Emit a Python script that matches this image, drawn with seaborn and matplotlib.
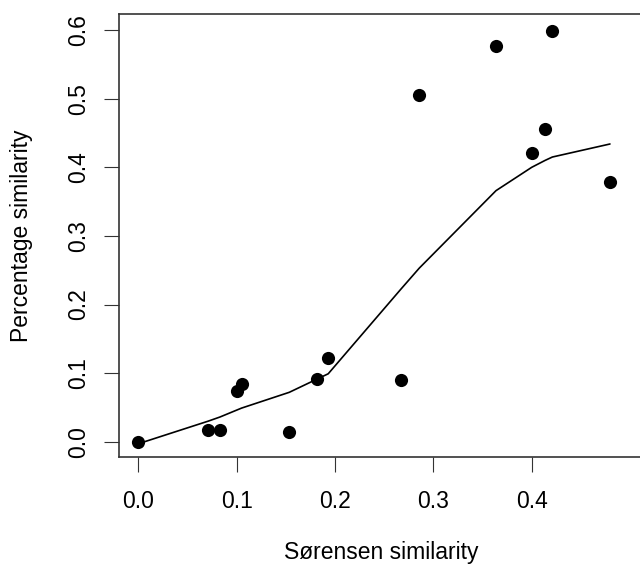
import matplotlib
matplotlib.use("Agg")
import matplotlib.pyplot as plt
import seaborn as sns
import pandas as pd

sorensen = [0.0, 0.0712, 0.0831, 0.1000, 0.1051, 0.1536, 0.1814, 0.1932,
            0.2669, 0.2858, 0.3639, 0.4002, 0.4137, 0.4212, 0.4798]
percentage = [0.0, 0.0171, 0.0171, 0.0743, 0.0840, 0.0141, 0.0918, 0.1222,
              0.0899, 0.5054, 0.5768, 0.4204, 0.4554, 0.5987, 0.3790]
smooth = [-0.003, 0.030, 0.036, 0.046, 0.049, 0.072, 0.091, 0.099,
          0.222, 0.253, 0.366, 0.400, 0.410, 0.415, 0.434]
x_ticks = [0.0, 0.1, 0.2, 0.3, 0.4]
y_ticks = [0.0, 0.1, 0.2, 0.3, 0.4, 0.5, 0.6]

df = pd.DataFrame({"x": sorensen, "y": percentage, "fit": smooth})

sns.set_style("white")
plt.rcParams["font.family"] = ["Liberation Sans", "DejaVu Sans"]

fig = plt.figure(figsize=(6.4, 5.66), dpi=100)
W, H = 640, 566
ax = fig.add_axes([119 / W, 1 - 457 / H, 524 / W, 443 / H])

sns.scatterplot(data=df, x="x", y="y", ax=ax, color="black", s=90,
                edgecolor="black", linewidth=0, zorder=3)
sns.lineplot(data=df, x="x", y="fit", ax=ax, color="black", linewidth=1.2,
             sort=True, estimator=None, zorder=2)

ax.set_xlim(-0.0196, 0.5134)
ax.set_ylim(-0.0223, 0.6235)
ax.set_xticks(x_ticks)
ax.set_xticklabels([f"{v:.1f}" for v in x_ticks])
ax.set_yticks(y_ticks)
ax.set_yticklabels([f"{v:.1f}" for v in y_ticks], rotation=90, va="center")

for s in ax.spines.values():
    s.set_visible(True)
    s.set_color("#333333")
    s.set_linewidth(1.2)

ax.tick_params(axis="both", direction="out", length=11, width=0.8,
               color="#333333", labelsize=16.5, labelcolor="black",
               bottom=True, left=True)
ax.tick_params(axis="x", pad=13)
ax.tick_params(axis="y", pad=10)

ax.set_xlabel("Sørensen similarity", fontsize=16.5, color="black")
ax.set_ylabel("Percentage similarity", fontsize=16.5, color="black")
ax.xaxis.set_label_coords((381 - 119) / 524, (457 - 553) / 443)
ax.yaxis.set_label_coords((22 - 119) / 524, 0.5)
ax.xaxis.label.set_va("center")
ax.yaxis.label.set_va("center")

fig.savefig("out.png", dpi=100)
